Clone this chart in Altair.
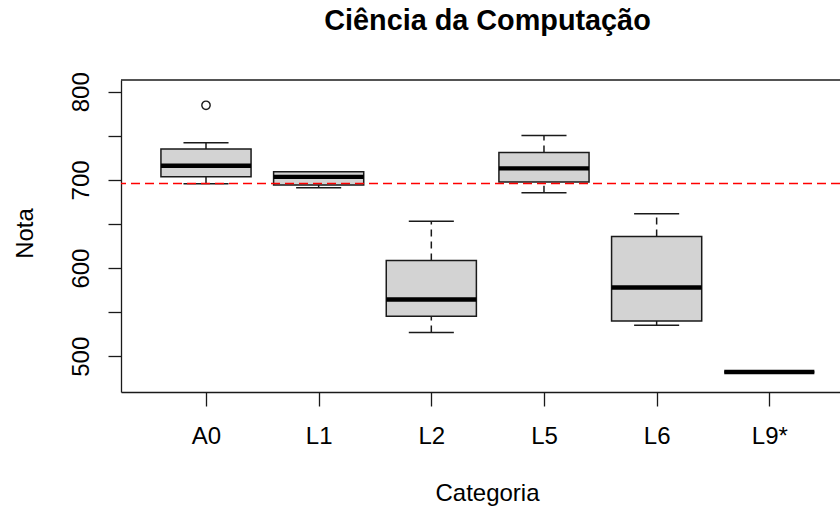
import altair as alt
import pandas as pd

# Box-plot summary per category (Nota)
categories = ["A0", "L1", "L2", "L5", "L6", "L9*"]
lower_whisker = [695.6, 691.0, 526.9, 685.4, 535.2, 482.2]
q1 = [703.5, 694.1, 545.4, 697.5, 540.1, 482.2]
median = [716.0, 703.5, 564.4, 713.1, 578.0, 482.2]
q3 = [735.0, 709.2, 608.6, 731.2, 635.9, 482.2]
upper_whisker = [742.1, 709.2, 653.2, 750.5, 661.5, 482.2]

outlier_category = ["A0"]
outlier_value = [784.6]

reference_value = [696.0]

positions = list(range(1, len(categories) + 1))

stats = pd.DataFrame({
    "pos": positions,
    "categoria": categories,
    "lower": lower_whisker,
    "q1": q1,
    "median": median,
    "q3": q3,
    "upper": upper_whisker,
})
outliers = pd.DataFrame({
    "pos": [positions[categories.index(c)] for c in outlier_category],
    "nota": outlier_value,
})
ref = pd.DataFrame({"nota": reference_value})

PLOT_W = 719
PLOT_H = 312
FONT = "Liberation Sans"
INK = "#1a1a1a"

x_scale = alt.Scale(domain=[0.2455, 0.2455 + PLOT_W / 112.66], nice=False, zero=False)
y_scale = alt.Scale(domain=[459.5, 813.3], nice=False, zero=False)

label_expr_x = "[" + ",".join(f"'{c}'" for c in categories) + "][datum.value - 1]"

x_axis = alt.Axis(
    values=positions,
    labelExpr=label_expr_x,
    title="Categoria",
    grid=False,
    tickSize=14,
    tickColor=INK,
    tickWidth=1.3,
    domainColor=INK,
    domainWidth=1.3,
    labelFont=FONT,
    labelFontSize=24,
    labelColor="#000000",
    labelBaseline="alphabetic",
    labelPadding=37,
    labelFlush=False,
    labelOverlap=False,
    titleFont=FONT,
    titleFontSize=24,
    titleFontWeight="normal",
    titleColor="#000000",
    titleBaseline="alphabetic",
    titleAlign="center",
    titleX=366,
    titleY=108,
)

y_axis = alt.Axis(
    values=[500, 550, 600, 650, 700, 750, 800],
    labelExpr="datum.value % 100 == 0 ? datum.label : ''",
    title="Nota",
    grid=False,
    tickSize=13,
    tickColor=INK,
    tickWidth=1.3,
    domainColor=INK,
    domainWidth=1.3,
    labelFont=FONT,
    labelFontSize=24,
    labelColor="#000000",
    labelAngle=270,
    labelAlign="center",
    labelBaseline="alphabetic",
    labelPadding=20,
    labelOverlap=False,
    titleFont=FONT,
    titleFontSize=24,
    titleFontWeight="normal",
    titleColor="#000000",
    titleAngle=270,
    titleAlign="center",
    titleBaseline="alphabetic",
    titleX=-89,
    titleY=153,
)

base = alt.Chart(stats)

# Dashed whiskers (upper and lower)
whisker_up = base.mark_rule(color=INK, strokeWidth=1.5, strokeDash=[7, 5]).encode(
    x=alt.X("pos:Q", scale=x_scale, axis=x_axis),
    y=alt.Y("q3:Q", scale=y_scale, axis=y_axis),
    y2="upper:Q",
)
whisker_down = base.mark_rule(color=INK, strokeWidth=1.5, strokeDash=[7, 5]).encode(
    x=alt.X("pos:Q", scale=x_scale),
    y=alt.Y("lower:Q", scale=y_scale),
    y2="q1:Q",
)

# Whisker caps (half the box width)
caps_base = base.transform_calculate(cl="datum.pos - 0.2", cr="datum.pos + 0.2")
cap_up = caps_base.mark_rule(color=INK, strokeWidth=1.5).encode(
    x=alt.X("cl:Q", scale=x_scale), x2="cr:Q", y=alt.Y("upper:Q", scale=y_scale)
)
cap_down = caps_base.mark_rule(color=INK, strokeWidth=1.5).encode(
    x=alt.X("cl:Q", scale=x_scale), x2="cr:Q", y=alt.Y("lower:Q", scale=y_scale)
)

# Boxes and medians
box_base = base.transform_calculate(bl="datum.pos - 0.4", br="datum.pos + 0.4")
boxes = box_base.mark_rect(fill="#d3d3d3", stroke=INK, strokeWidth=1.5).encode(
    x=alt.X("bl:Q", scale=x_scale), x2="br:Q",
    y=alt.Y("q1:Q", scale=y_scale), y2="q3:Q",
)
medians = box_base.mark_rule(color="#000000", strokeWidth=4.4).encode(
    x=alt.X("bl:Q", scale=x_scale), x2="br:Q",
    y=alt.Y("median:Q", scale=y_scale),
)

# Outlier points
outlier_pts = alt.Chart(outliers).mark_point(
    shape="circle", filled=False, color=INK, size=70, strokeWidth=1.4, opacity=1
).encode(
    x=alt.X("pos:Q", scale=x_scale),
    y=alt.Y("nota:Q", scale=y_scale),
)

# Reference line
ref_line = alt.Chart(ref).mark_rule(color="#ff0000", strokeWidth=1.6, strokeDash=[9, 5]).encode(
    y=alt.Y("nota:Q", scale=y_scale)
)

# Top border of the plot frame
top_frame = alt.Chart(ref).mark_rule(color=INK, strokeWidth=1.3).encode(
    x=alt.value(0), x2=alt.value(PLOT_W), y=alt.value(0)
)

chart = alt.layer(
    whisker_up, whisker_down, cap_up, cap_down, boxes, medians, outlier_pts, ref_line, top_frame
).properties(
    width=PLOT_W,
    height=PLOT_H,
    title=alt.TitleParams(
        "Ciência da Computação",
        font=FONT,
        fontSize=28.8,
        fontWeight="bold",
        color="#000000",
        anchor="middle",
        baseline="alphabetic",
        offset=13,
        dx=7,
    ),
    autosize=alt.AutoSizeParams(type="none"),
    padding={"left": 121, "top": 80, "right": 0, "bottom": 119},
    background="white",
).configure_view(stroke=None)

chart.save("out.html", embed_options={"renderer": "svg", "actions": False})
